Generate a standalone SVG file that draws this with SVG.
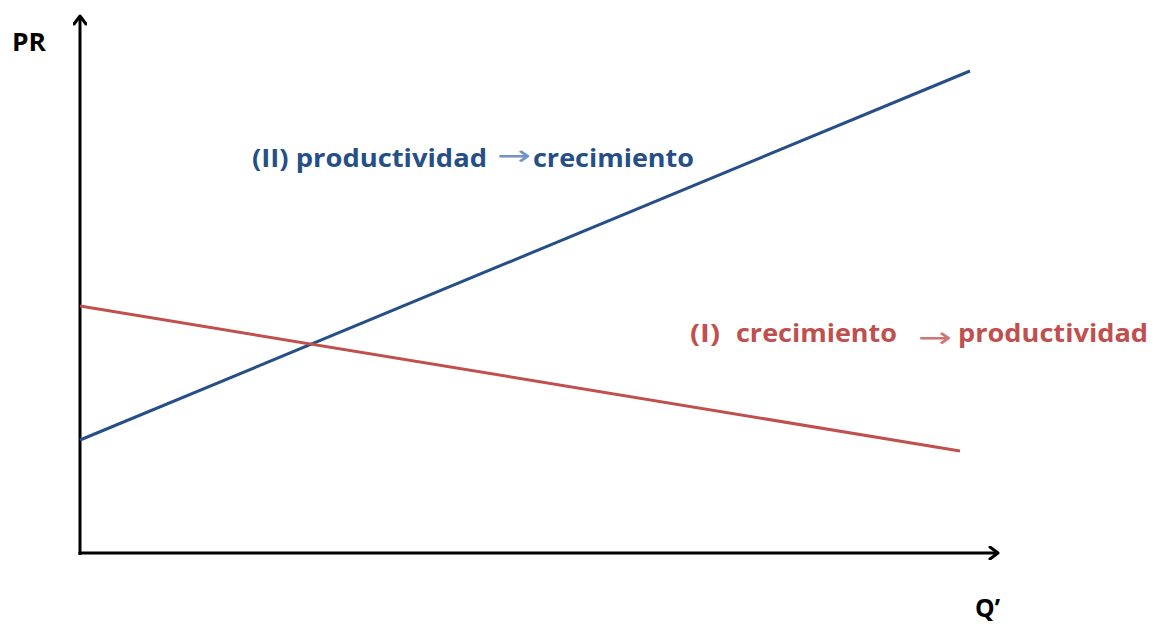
<svg xmlns="http://www.w3.org/2000/svg" width="1156" height="626" viewBox="0 0 1156 626">
<style>
.lbl{font-family:"Open Sans","Liberation Sans",sans-serif;font-weight:bold;font-size:25px}
.ax{stroke:#000;stroke-width:3;fill:none}
.arr{font-family:"DejaVu Sans","Liberation Serif",serif;font-weight:normal;font-size:28px}
.blue{fill:#254F86}
.red{fill:#C0504D}
</style>
<defs>
<marker id="ah" markerWidth="14" markerHeight="14" refX="10" refY="7" orient="auto" markerUnits="userSpaceOnUse">
<path d="M2,1 L10,7 L2,13" fill="none" stroke="#000" stroke-width="3" stroke-linecap="round" stroke-linejoin="round"/>
</marker>
</defs>
<rect width="1156" height="626" fill="#fff"/>
<g id="axes" class="connectors">
<line class="ax" x1="80" y1="555" x2="80" y2="16" marker-end="url(#ah)"/>
<line class="ax" x1="78.5" y1="553" x2="998" y2="553" marker-end="url(#ah)"/>
</g>
<g id="curves">
<line x1="80" y1="440" x2="970" y2="71" stroke="#254F86" stroke-width="3"/>
<line x1="80" y1="306" x2="960" y2="451" stroke="#C0504D" stroke-width="3"/>
</g>
<g id="label-PR"><text class="lbl" x="12" y="51" font-size="20" textLength="34" lengthAdjust="spacingAndGlyphs" fill="#000">PR</text></g>
<g id="label-Q"><text class="lbl" x="975" y="617" font-size="21" textLength="25" lengthAdjust="spacingAndGlyphs" fill="#000">Q’</text></g>
<g id="label-II">
<text class="lbl blue" x="252" y="167" textLength="235" lengthAdjust="spacingAndGlyphs">(II) productividad</text>
<text class="arr" x="497" y="165" textLength="34" lengthAdjust="spacingAndGlyphs" fill="#6F94C8">→</text>
<text class="lbl blue" x="533" y="167" textLength="161" lengthAdjust="spacingAndGlyphs">crecimiento</text>
</g>
<g id="label-I">
<text class="lbl red" x="690" y="342" textLength="30" lengthAdjust="spacingAndGlyphs">(I)</text>
<text class="lbl red" x="736" y="342" textLength="161" lengthAdjust="spacingAndGlyphs">crecimiento</text>
<text class="arr" x="918" y="347" textLength="34" lengthAdjust="spacingAndGlyphs" fill="#D07573">→</text>
<text class="lbl red" x="958" y="342" textLength="190" lengthAdjust="spacingAndGlyphs">productividad</text>
</g>
</svg>
